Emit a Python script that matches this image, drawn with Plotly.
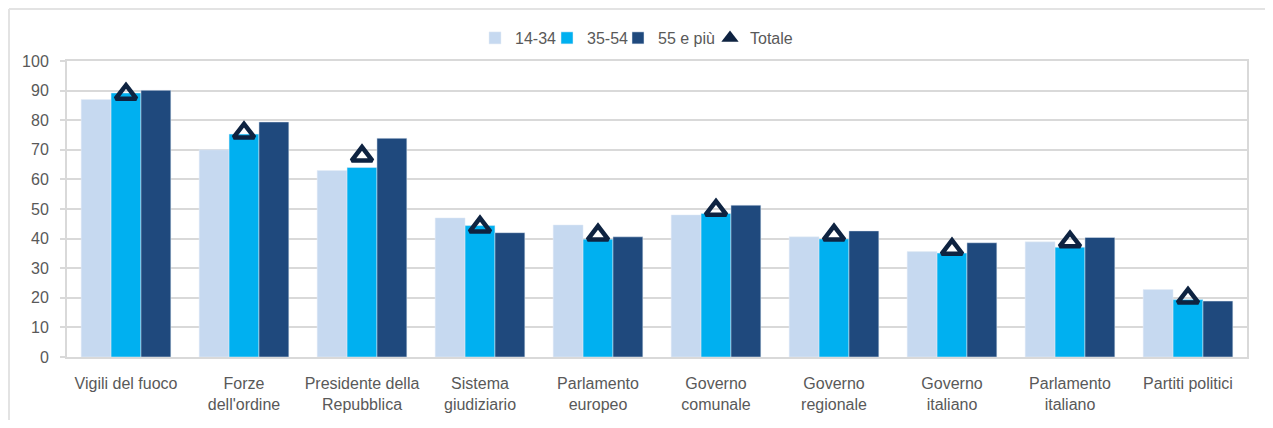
import plotly.graph_objects as go

categories = ["Vigili del fuoco", "Forze<br>dell'ordine", "Presidente della<br>Repubblica",
              "Sistema<br>giudiziario", "Parlamento<br>europeo", "Governo<br>comunale",
              "Governo<br>regionale", "Governo<br>italiano", "Parlamento<br>italiano",
              "Partiti politici"]
v_14_34 = [87, 70, 63, 47, 44.6, 48, 40.6, 35.6, 38.9, 22.8]
v_35_54 = [89.2, 75.3, 64, 44.4, 39.8, 48.5, 39.9, 35.1, 37.1, 19.4]
v_55 = [90.1, 79.4, 73.9, 42, 40.6, 51.3, 42.6, 38.6, 40.4, 18.9]
v_tot = [88.8, 75.7, 67.9, 43.9, 41.2, 49.6, 41.2, 36.4, 38.9, 19.9]

c1, c2, c3, ct = "#C6D9F0", "#00B0F0", "#1F497D", "#0E2341"
font_family = "Liberation Sans, Arial, sans-serif"
grid = "#D9D9D9"
txt = "#595959"

# page has an 8px body margin: figure sits at (8, 8) in the window
OFF = 8
W, H = 1273 - 2 * OFF, 428 - 2 * OFF
L = 67 - OFF
T = 61 - OFF
R = W - (1247 - OFF)
B = H - (357 - OFF)
ph = H - T - B
pw = W - L - R


def px_x(page_x):
    return (page_x - OFF - L) / pw


def px_y(page_y):
    return (357 - page_y) / ph


fig = go.Figure()
fig.add_trace(go.Bar(name="14-34", x=categories, y=v_14_34, marker_color=c1, legend="legend"))
fig.add_trace(go.Bar(name="35-54", x=categories, y=v_35_54, marker_color=c2, legend="legend2"))
fig.add_trace(go.Bar(name="55 e più", x=categories, y=v_55, marker_color=c3, legend="legend3"))
fig.add_trace(go.Scatter(name="Totale", x=categories, y=v_tot, mode="markers", showlegend=False,
                         marker=dict(symbol="triangle-up-open", size=18, color=ct,
                                     line=dict(width=4.5, color=ct))))
fig.add_trace(go.Scatter(name="Totale", x=[None], y=[None], mode="markers", legend="legend4",
                         marker=dict(symbol="triangle-up", size=15, color=ct)))

leg_common = dict(orientation="h", xanchor="left", yanchor="middle", y=px_y(38),
                  font=dict(size=16, color=txt), itemwidth=30,
                  bgcolor="rgba(0,0,0,0)")
text_starts = [515, 587, 658, 750]

fig.update_layout(
    width=W, height=H,
    margin=dict(l=L, r=R, t=T, b=B, autoexpand=False),
    paper_bgcolor="white", plot_bgcolor="white",
    barmode="group", bargap=0.24, bargroupgap=0,
    font=dict(family=font_family, size=16, color=txt),
    legend=dict(leg_common, x=px_x(text_starts[0] - 40)),
    legend2=dict(leg_common, x=px_x(text_starts[1] - 40)),
    legend3=dict(leg_common, x=px_x(text_starts[2] - 40)),
    legend4=dict(leg_common, x=px_x(text_starts[3] - 40)),
    xaxis=dict(range=[-0.5, len(categories) - 0.5], autorange=False,
               showline=True, linecolor=grid, linewidth=2, mirror=True, automargin=False,
               ticks="", tickfont=dict(size=16, color=txt), ticklabelstandoff=11),
    yaxis=dict(range=[0, 100], dtick=10, showgrid=True, gridcolor=grid, gridwidth=2,
               showline=True, linecolor=grid, linewidth=2, mirror=True, automargin=False,
               ticks="outside", ticklen=5, tickcolor=grid, tickwidth=2,
               tickfont=dict(size=16, color=txt), zeroline=False, ticklabelstandoff=8),
    showlegend=True,
)
# outer frame lines (left and top)
x_left = (1 - L) / pw
y_top = px_y(9)
y_bot = px_y(428)
fig.add_shape(type="line", xref="paper", yref="paper", x0=x_left, x1=(W - L) / pw,
              y0=y_top, y1=y_top, line=dict(color="#E3E3E3", width=2))
fig.add_shape(type="line", xref="paper", yref="paper", x0=x_left, x1=x_left,
              y0=y_top, y1=y_bot, line=dict(color="#E3E3E3", width=2))

fig.write_html("out.html")
